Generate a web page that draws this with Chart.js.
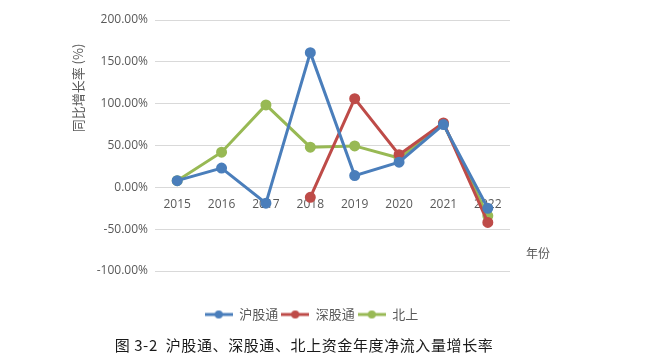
<!DOCTYPE html>
<html><head><meta charset="utf-8">
<script src="https://cdn.jsdelivr.net/npm/chart.js@4/dist/chart.umd.min.js"></script>
<style>
html,body{margin:0;padding:0;background:#fff;}
#wrap{position:relative;width:645px;height:363px;}
#caption{position:absolute;left:0;width:608px;top:335px;text-align:center;font-family:"Noto Sans CJK SC",sans-serif;font-size:15px;line-height:20px;color:#1a1a1a;letter-spacing:0.6px;}
</style></head>
<body>
<div id="wrap"><canvas id="c" width="645" height="363"></canvas>
<div id="caption">图 3-2&nbsp; 沪股通、深股通、北上资金年度净流入量增长率</div></div>
<script>
const years = ['2015','2016','2017','2018','2019','2020','2021','2022'];
const shanghai = [8, 23, -19, 161, 14, 30, 75, -25];
const shenzhen = [null, null, null, -12, 106, 39, 77, -42];
const northbound = [8, 42, 98.5, 48, 49.5, 35, 76, -34];
const seriesNames = ['沪股通','深股通','北上'];
const colors = ['#4a7ebb','#be4b48','#98b954'];

function legendIcon(color){
  const cv=document.createElement('canvas'); cv.width=28; cv.height=10;
  const g=cv.getContext('2d');
  g.strokeStyle=color; g.lineWidth=3; g.beginPath(); g.moveTo(0,5); g.lineTo(28,5); g.stroke();
  g.fillStyle=color; g.beginPath(); g.arc(14,5,4,0,Math.PI*2); g.fill();
  return cv;
}
const icons = colors.map(legendIcon);

const extraText = {
  id:'extraText',
  afterDraw(chart){
    const ctx=chart.ctx;
    ctx.save();
    ctx.fillStyle='#595959';
    ctx.font='13px "Noto Sans CJK SC", sans-serif';
    ctx.textAlign='center'; ctx.textBaseline='middle';
    ctx.translate(78,88); ctx.rotate(-Math.PI/2);
    ctx.fillText('同比增长率 (%)',0,0);
    ctx.restore();
    ctx.save();
    ctx.fillStyle='#595959';
    ctx.font='12px "Noto Sans CJK SC", sans-serif';
    ctx.textAlign='center'; ctx.textBaseline='middle';
    ctx.fillText('年份',538,253);
    ctx.restore();
  }
};

const mk=(i,data)=>({label:seriesNames[i],data,xAxisID:'x',yAxisID:'y',borderColor:colors[i],backgroundColor:colors[i],
  borderWidth:3,pointRadius:4,pointHoverRadius:4,pointStyle:'circle',tension:0,spanGaps:false});

new Chart(document.getElementById('c'),{
  type:'line',
  data:{labels:years,datasets:[mk(0,shanghai),mk(1,shenzhen),mk(2,northbound)]},
  options:{
    responsive:false,animation:false,
    layout:{padding:{left:0,right:22,top:20,bottom:32}},
    plugins:{
      tooltip:{enabled:false},
      legend:{position:'bottom',
        labels:{usePointStyle:true,pointStyleWidth:28,padding:3,color:'#595959',
          font:{size:13,family:'"Noto Sans CJK SC", sans-serif'},
          generateLabels(chart){
            return chart.data.datasets.map((d,i)=>({text:d.label,pointStyle:icons[i],fillStyle:colors[i],strokeStyle:colors[i],lineWidth:0,datasetIndex:i,fontColor:'#595959'}));
          }}
      }
    },
    scales:{
      x:{position:{y:0},offset:true,
        grid:{display:false},border:{display:false},
        ticks:{color:'#595959',font:{size:12,family:'"Open Sans", sans-serif'},padding:2,maxRotation:0}
      },
      y:{min:-100,max:200,
        afterFit(s){s.width=155;},
        grid:{color:'#d9d9d9',lineWidth:1,drawTicks:false},border:{display:false},
        ticks:{stepSize:50,padding:7,color:'#595959',font:{size:12,family:'"Open Sans", sans-serif'},
          callback:v=>v.toFixed(2)+'%'}
      },
      xPad:{type:'category',position:'bottom',display:true,
        grid:{display:false},border:{display:false},ticks:{display:false},
        afterFit(s){s.height=34;}
      },
      yPad:{type:'linear',position:'right',display:true,
        grid:{display:false},border:{display:false},ticks:{display:false},
        afterFit(s){s.width=113;}
      }
    }
  },
  plugins:[extraText]
});
</script>
</body></html>
